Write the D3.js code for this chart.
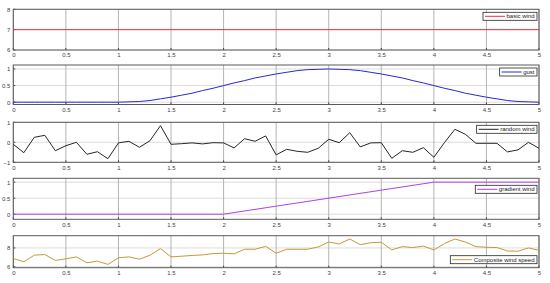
<!DOCTYPE html>
<html>
<head>
<meta charset="utf-8">
<script src="https://cdn.jsdelivr.net/npm/d3@7"></script>
<style>
  body { margin: 0; background: #fff; }
  svg text { font-family: "Liberation Sans", Arial, sans-serif; }
</style>
</head>
<body>
<div id="chart"></div>
<script>
// time axis
var xTicks = [0, 0.5, 1, 1.5, 2, 2.5, 3, 3.5, 4, 4.5, 5];
var sampleTimes = [0, 0.1, 0.2, 0.3, 0.4, 0.5, 0.6, 0.7, 0.8, 0.9,
  1, 1.1, 1.2, 1.3, 1.4, 1.5, 1.6, 1.7, 1.8, 1.9,
  2, 2.1, 2.2, 2.3, 2.4, 2.5, 2.6, 2.7, 2.8, 2.9,
  3, 3.1, 3.2, 3.3, 3.4, 3.5, 3.6, 3.7, 3.8, 3.9,
  4, 4.1, 4.2, 4.3, 4.4, 4.5, 4.6, 4.7, 4.8, 4.9, 5];

// series values
var basicTimes = [0, 5];
var basicWind = [7, 7];

var gustWind = [0, 0, 0, 0, 0, 0, 0, 0, 0, 0,
  0, 0.01, 0.02, 0.05, 0.1, 0.15, 0.21, 0.27, 0.35, 0.42,
  0.5, 0.58, 0.65, 0.73, 0.79, 0.85, 0.9, 0.95, 0.98, 0.99,
  1, 0.99, 0.98, 0.95, 0.9, 0.85, 0.79, 0.73, 0.65, 0.58,
  0.5, 0.42, 0.35, 0.27, 0.21, 0.15, 0.1, 0.05, 0.02, 0.01, 0];

var randomWind = [-0.1, -0.52, 0.25, 0.35, -0.42, -0.17, 0, -0.6, -0.47, -0.82,
  -0.03, 0.05, -0.25, 0.08, 0.83, -0.1, -0.07, -0.03, -0.08, -0.02,
  -0.03, -0.28, 0.18, 0.05, 0.32, -0.63, -0.35, -0.45, -0.5, -0.3,
  0.15, -0.02, 0.48, -0.23, -0.03, -0.02, -0.8, -0.42, -0.5, -0.27,
  -0.75, -0.02, 0.65, 0.4, -0.05, -0.05, -0.05, -0.48, -0.38, 0, -0.3];

var gradientTimes = [0, 2, 4, 5];
var gradientWind = [0, 0, 1, 1];

var compositeWind = [6.88, 6.53, 7.23, 7.3, 6.67, 6.84, 7.05, 6.42, 6.6, 6.25,
  6.95, 7.05, 6.8, 7.23, 7.93, 7.05, 7.12, 7.2, 7.26, 7.4,
  7.44, 7.37, 7.86, 7.86, 8.17, 7.44, 7.86, 7.86, 7.86, 8.1,
  8.63, 8.42, 8.95, 8.35, 8.56, 8.6, 7.79, 8.14, 8.04, 8.2,
  7.79, 8.46, 8.95, 8.63, 8.14, 8.07, 8.04, 7.68, 7.65, 8.0, 7.75];

var legendLabels = ["basic wind", "gust", "random wind", "gradient wind", "Composite wind speed"];

var W = 550, H = 283;
var left = 13.3, right = 539;

var panels = [
  {t: basicTimes, v: basicWind, top: 9.3, bottom: 50, domain: [6, 8], ticks: [6, 7, 8], color: "#f0303c", legend: "top", off: 3},
  {t: sampleTimes, v: gustWind, top: 65, bottom: 104.5, domain: [-0.07, 1.12], ticks: [0, 0.5, 1], color: "#2828d0", legend: "top", off: 3},
  {t: sampleTimes, v: randomWind, top: 122.3, bottom: 162.3, domain: [-1, 1], ticks: [-1, 0, 1], color: "#262626", legend: "top", off: 3},
  {t: gradientTimes, v: gradientWind, top: 178.3, bottom: 219.3, domain: [-0.16, 1.12], ticks: [0, 0.5, 1], color: "#b040e8", legend: "top", off: 7},
  {t: sampleTimes, v: compositeWind, top: 235.7, bottom: 267.7, domain: [5.9, 9.3], ticks: [6, 8], color: "#c89838", legend: "bottom", off: 4}
];

var svg = d3.select("#chart").append("svg")
  .attr("width", W).attr("height", H);

var x = d3.scaleLinear().domain([0, 5]).range([left, right]);

panels.forEach(function (p, i) {
  var y = d3.scaleLinear().domain(p.domain).range([p.bottom, p.top]);
  var g = svg.append("g");

  // grid
  g.selectAll(".hg").data(p.ticks).enter().append("line")
    .attr("x1", left).attr("x2", right)
    .attr("y1", function (d) { return y(d); }).attr("y2", function (d) { return y(d); })
    .attr("stroke", "#dcdcdc").attr("stroke-width", 1);
  g.selectAll(".vg").data(xTicks).enter().append("line")
    .attr("x1", function (d) { return x(d); }).attr("x2", function (d) { return x(d); })
    .attr("y1", p.top).attr("y2", p.bottom)
    .attr("stroke", "#b4b4b4").attr("stroke-width", 1);

  // axes
  var xa = g.append("g")
    .attr("transform", "translate(0," + p.bottom + ")")
    .call(d3.axisBottom(x).tickValues(xTicks).tickSize(0).tickPadding(3)
      .tickFormat(function (d) { return d3.format("")(d); }));
  var ya = g.append("g")
    .attr("transform", "translate(" + left + ",0)")
    .call(d3.axisLeft(y).tickValues(p.ticks).tickSize(0).tickPadding(3)
      .tickFormat(function (d) { return d3.format("")(d); }));
  [xa, ya].forEach(function (a) {
    a.select(".domain").remove();
    a.selectAll("text").attr("font-size", 6).attr("fill", "#404040");
  });

  // inner tick marks
  g.selectAll(".xt").data(xTicks).enter().append("line")
    .attr("x1", function (d) { return x(d); }).attr("x2", function (d) { return x(d); })
    .attr("y1", p.bottom).attr("y2", p.bottom - 2)
    .attr("stroke", "#404040");
  g.selectAll(".yt").data(p.ticks).enter().append("line")
    .attr("x1", left).attr("x2", left + 2)
    .attr("y1", function (d) { return y(d); }).attr("y2", function (d) { return y(d); })
    .attr("stroke", "#404040");

  // frame
  g.append("rect")
    .attr("x", left).attr("y", p.top)
    .attr("width", right - left).attr("height", p.bottom - p.top)
    .attr("fill", "none").attr("stroke", "#5a5a5a").attr("stroke-width", 1);

  // series line
  var pts = p.t.map(function (t, k) { return [t, p.v[k]]; });
  g.append("path")
    .datum(pts)
    .attr("fill", "none")
    .attr("stroke", p.color)
    .attr("stroke-width", 1)
    .attr("d", d3.line().x(function (d) { return x(d[0]); }).y(function (d) { return y(d[1]); }));

  // legend
  var label = legendLabels[i];
  var lg = g.append("g");
  var txt = lg.append("text")
    .attr("font-size", 6).attr("fill", "#202020")
    .text(label);
  var tw = txt.node().getComputedTextLength();
  var bw = tw + 26, bh = 8;
  var bx = right - 2 - bw;
  var by = p.legend === "top" ? p.top + p.off : p.bottom - p.off - bh;
  lg.insert("rect", "text")
    .attr("x", bx).attr("y", by).attr("width", bw).attr("height", bh)
    .attr("fill", "#fff").attr("stroke", "#262626").attr("stroke-width", 0.8);
  lg.append("line")
    .attr("x1", bx + 2).attr("x2", bx + 22)
    .attr("y1", by + bh / 2).attr("y2", by + bh / 2)
    .attr("stroke", p.color).attr("stroke-width", 1);
  txt.attr("x", bx + 23.5).attr("y", by + bh / 2 + 2);
});
</script>
</body>
</html>
